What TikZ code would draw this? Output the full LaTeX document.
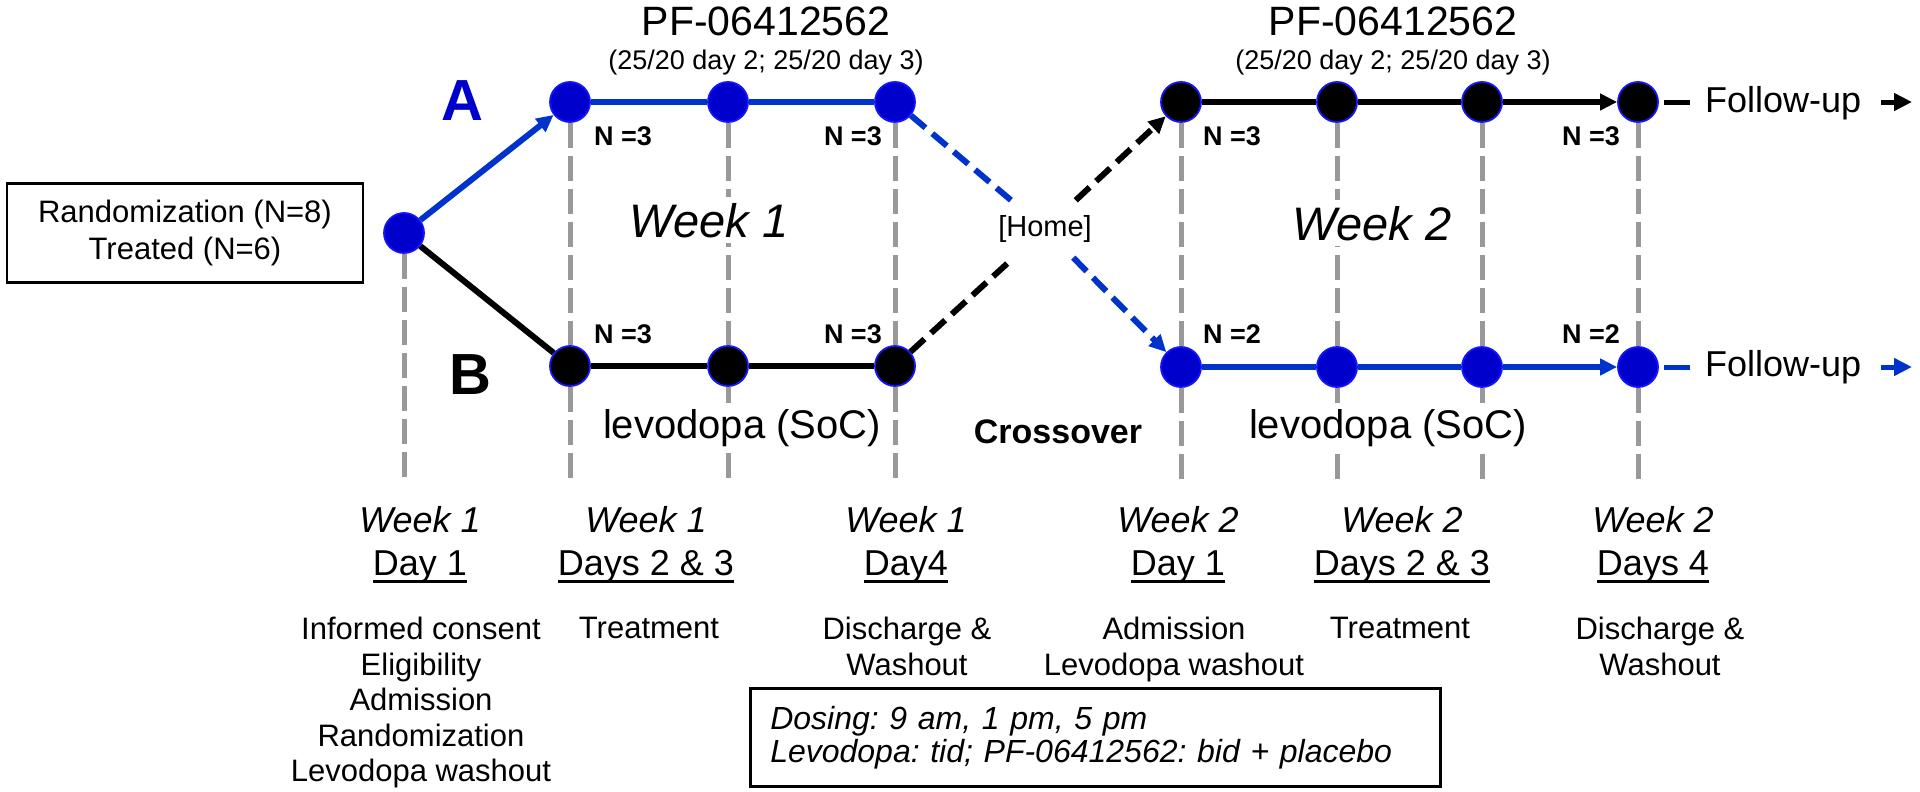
\documentclass[tikz,border=0pt]{standalone}
\usepackage{fontspec}
\setmainfont{Liberation Sans}
\usetikzlibrary{arrows.meta,positioning}
\definecolor{dotblue}{RGB}{0,0,204}
\definecolor{rimblue}{RGB}{20,20,255}
\definecolor{lineblue}{RGB}{0,51,204}
\definecolor{guidegray}{RGB}{153,153,153}
\newcommand{\dayul}[1]{\setbox0\hbox{#1}\rlap{\vrule height -5pt depth 7.5pt width \wd0}\box0}
\frenchspacing

\begin{document}
\begin{tikzpicture}[x=1pt,y=-1pt,
 >={Triangle[length=17pt,width=16pt]},
 dot/.style={circle,minimum size=40pt,inner sep=0pt,draw=rimblue,line width=1.8pt},
 armA/.style={dot,fill=dotblue},
 armB/.style={dot,fill=black},
 bline/.style={draw=lineblue,line width=6pt},
 kline/.style={draw=black,line width=6pt},
 dashy/.style={dash pattern=on 19pt off 9pt},
 guide/.style={draw=guidegray,line width=5pt,dash pattern=on 25pt off 8pt},
 nlab/.style={font=\fontsize{27}{30}\selectfont\bfseries,inner sep=0pt},
 cover/.style={fill=white,inner xsep=2pt,inner ysep=6pt,anchor=base},
 wklab/.style={font=\fontsize{36}{40}\selectfont\itshape,inner sep=0pt,anchor=base},
 daylab/.style={font=\fontsize{36}{40}\selectfont,inner sep=0pt,anchor=base},
 note/.style={font=\fontsize{31}{35.5}\selectfont,align=center,inner sep=0pt,anchor=north}]
\useasboundingbox (0,0) rectangle (1920,792);

\node[draw,line width=2.5pt,minimum width=356pt,minimum height=99pt,align=center,
 font=\fontsize{31}{37}\selectfont] (rand) at (185,233) {Randomization (N=8)\\Treated (N=6)};

\node[armA] (s) at (404,233) {};
\node[armA] (a1) at (570,102) {};
\node[armA] (a2) at (728,102) {};
\node[armA] (a3) at (895,102) {};
\node[armB] (b1) at (570,366) {};
\node[armB] (b2) at (728,366) {};
\node[armB] (b3) at (895,366) {};
\node[armB] (c1) at (1181,102) {};
\node[armB] (c2) at (1337,102) {};
\node[armB] (c3) at (1482,102) {};
\node[armB] (c4) at (1638,102) {};
\node[armA] (d1) at (1181,367) {};
\node[armA] (d2) at (1337,367) {};
\node[armA] (d3) at (1482,367) {};
\node[armA] (d4) at (1638,367) {};

\draw[guide] (s) -- (s |- 0,482);
\foreach \t/\b in {a1/b1,a2/b2,a3/b3,c1/d1,c2/d2,c3/d3,c4/d4}{
 \draw[guide] (\t) -- (\b);
 \draw[guide] (\b) -- (\b |- 0,482);
}

\node[font=\fontsize{29}{32}\selectfont,minimum width=80pt,minimum height=57pt,inner sep=0pt] (home) at (1045,229) {[Home]};

\draw[bline,->] (s) -- (a1);
\draw[kline] (s) -- (b1);
\draw[bline] (a1) -- (a2) -- (a3);
\draw[kline] (b1) -- (b2) -- (b3);
\draw[bline,dashy] (a3) -- (home);
\draw[bline,dashy,->] (home) -- (d1);
\draw[kline,dashy] (b3) -- (home);
\draw[kline,dashy,->] (home) -- (c1);
\draw[kline] (c1) -- (c2) -- (c3);
\draw[kline,->] (c3) -- (c4);
\draw[bline] (d1) -- (d2) -- (d3);
\draw[bline,->] (d3) -- (d4);

\node[font=\fontsize{36}{40}\selectfont,anchor=base west,inner sep=0pt] (fuA) at (1705,112) {Follow-up};
\node[font=\fontsize{36}{40}\selectfont,anchor=base west,inner sep=0pt] (fuB) at (1705,376) {Follow-up};
\coordinate (endA) at (1912,102);
\coordinate (endB) at (1912,367);
\draw[kline,line width=5pt] ([xshift=5pt]c4.east) -- ([xshift=-15pt]fuA.west |- c4);
\draw[kline,line width=5pt,-{Triangle[length=18pt,width=17pt]}] ([xshift=20pt]fuA.east |- c4) -- (endA);
\draw[bline,line width=5pt] ([xshift=5pt]d4.east) -- ([xshift=-15pt]fuB.west |- d4);
\draw[bline,line width=5pt,-{Triangle[length=18pt,width=17pt]}] ([xshift=20pt]fuB.east |- d4) -- (endB);

\node[font=\fontsize{58}{60}\selectfont\bfseries,text=dotblue] (armAlab) at (462,101) {A};
\node[font=\fontsize{58}{60}\selectfont\bfseries] (armBlab) at (470,375) {B};

\node[font=\fontsize{41}{44}\selectfont,anchor=base] (pfA) at (766,36) {PF-06412562};
\node[font=\fontsize{27}{30}\selectfont,anchor=base] (regA) at (766,70) {(25/20 day 2; 25/20 day 3)};
\node[font=\fontsize{41}{44}\selectfont,anchor=base] (pfB) at (1393,36) {PF-06412562};
\node[font=\fontsize{27}{30}\selectfont,anchor=base] (regB) at (1393,70) {(25/20 day 2; 25/20 day 3)};

\node[nlab,anchor=base west] (n1) at (594,145) {N =3};
\node[nlab,anchor=base east] (n2) at (882,145) {N =3};
\node[nlab,anchor=base west] (n3) at (594,343) {N =3};
\node[nlab,anchor=base east] (n4) at (882,343) {N =3};
\node[nlab,anchor=base west] (n5) at (1203,145) {N =3};
\node[nlab,anchor=base east] (n6) at (1620,145) {N =3};
\node[nlab,anchor=base west] (n7) at (1203,343) {N =2};
\node[nlab,anchor=base east] (n8) at (1620,343) {N =2};

\node[cover,font=\fontsize{47}{50}\selectfont\itshape] (wk1) at (709,237) {Week 1};
\node[cover,font=\fontsize{47}{50}\selectfont\itshape] (wk2) at (1372,240) {Week 2};
\node[cover,font=\fontsize{40}{44}\selectfont] (socA) at (742,438) {levodopa (SoC)};
\node[cover,font=\fontsize{40}{44}\selectfont] (socB) at (1388,438) {levodopa (SoC)};
\node[font=\fontsize{34}{36}\selectfont\bfseries,anchor=base] (xover) at (1058,443) {Crossover};

\foreach \x/\wk/\dy [count=\i] in {420/Week 1/Day 1,646/Week 1/Days 2 \& 3,906/Week 1/Day4,
 1178/Week 2/Day 1,1402/Week 2/Days 2 \& 3,1653/Week 2/Days 4}{
 \node[wklab] (wk-\i) at (\x,532) {\wk};
 \node[daylab] (day-\i) at (\x,575) {\dayul{\dy}};
}
\foreach \x/\txt [count=\i] in {421/{Informed consent\\Eligibility\\Admission\\Randomization\\Levodopa washout},
 649/{Treatment},907/{Discharge \&\\Washout},1174/{Admission\\Levodopa washout},
 1400/{Treatment},1660/{Discharge \&\\Washout}}{
 \node[note] (task-\i) at (\x,617) {\txt};
}

\node[draw,line width=2.5pt,anchor=north west,minimum height=98pt,text width=650pt,inner xsep=20pt,
 align=left,font=\fontsize{32}{33}\selectfont\itshape] (dosing) at (749,687)
 {Dosing: 9 am, 1 pm, 5 pm\\Levodopa: tid; PF-06412562: bid + placebo};
\end{tikzpicture}
\end{document}
